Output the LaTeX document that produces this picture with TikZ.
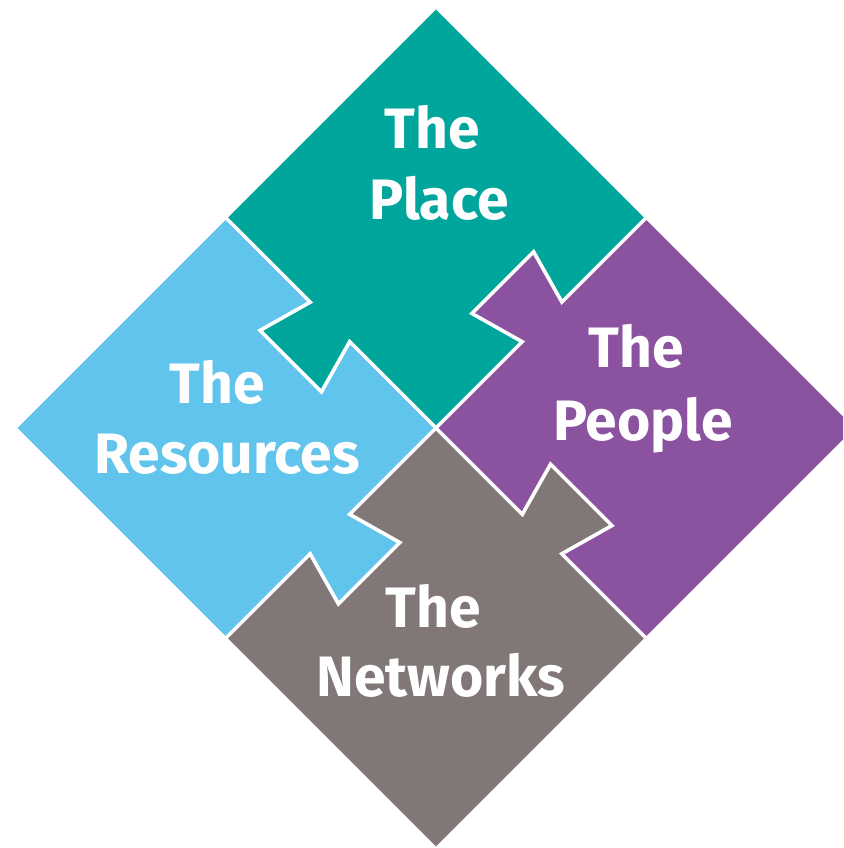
\documentclass[tikz,border=0pt]{standalone}
\usepackage{fontspec}
\setmainfont{Fira Sans}
\definecolor{placeC}{RGB}{0,165,155}
\definecolor{resC}{RGB}{97,196,236}
\definecolor{peopleC}{RGB}{139,82,160}
\definecolor{netC}{RGB}{128,119,118}
\tikzset{
  piece/.style={draw=white, line width=3.5pt, line join=miter},
  lbl/.style={text=white, font=\fontsize{57}{68}\selectfont\bfseries, anchor=base, inner sep=0pt}
}
\begin{document}
\begin{tikzpicture}[x=1pt,y=1pt]
\useasboundingbox (0,-848) rectangle (843,0);
\clip (0,-848) rectangle (843,0);
\def\S{297.7}
\begin{scope}[shift={(436,-428)}, rotate=45]
% The Place (a>0, b>0)
\fill[placeC] (0,0) -- (122,0) -- (106.5,55.5) -- (193.5,55.5) -- (178,0) -- (\S,0)
  -- (\S,\S) -- (0,\S) -- (0,178) -- (-55.5,193.5) -- (-55.5,106.5) -- (0,122) -- cycle;
\draw[piece] (0,0) -- (122,0) -- (106.5,55.5) -- (193.5,55.5) -- (178,0) -- (\S,0)
  -- (\S,\S) -- (0,\S) -- (0,178) -- (-55.5,193.5) -- (-55.5,106.5) -- (0,122) -- cycle;
% The Resources (a<0, b>0)
\fill[resC] (0,0) -- (0,122) -- (-55.5,106.5) -- (-55.5,193.5) -- (0,178) -- (0,\S)
  -- (-\S,\S) -- (-\S,0) -- (-178,0) -- (-193.5,-55.5) -- (-106.5,-55.5) -- (-122,0) -- cycle;
\draw[piece] (0,0) -- (0,122) -- (-55.5,106.5) -- (-55.5,193.5) -- (0,178) -- (0,\S)
  -- (-\S,\S) -- (-\S,0) -- (-178,0) -- (-193.5,-55.5) -- (-106.5,-55.5) -- (-122,0) -- cycle;
% The Networks (a<0, b<0)
\fill[netC] (0,0) -- (-122,0) -- (-106.5,-55.5) -- (-193.5,-55.5) -- (-178,0) -- (-\S,0)
  -- (-\S,-\S) -- (0,-\S) -- (0,-178) -- (55.5,-193.5) -- (55.5,-106.5) -- (0,-122) -- cycle;
\draw[piece] (0,0) -- (-122,0) -- (-106.5,-55.5) -- (-193.5,-55.5) -- (-178,0) -- (-\S,0)
  -- (-\S,-\S) -- (0,-\S) -- (0,-178) -- (55.5,-193.5) -- (55.5,-106.5) -- (0,-122) -- cycle;
% The People (a>0, b<0)
\fill[peopleC] (0,0) -- (0,-122) -- (55.5,-106.5) -- (55.5,-193.5) -- (0,-178) -- (0,-\S)
  -- (\S,-\S) -- (\S,0) -- (178,0) -- (193.5,55.5) -- (106.5,55.5) -- (122,0) -- cycle;
\draw[piece] (0,0) -- (0,-122) -- (55.5,-106.5) -- (55.5,-193.5) -- (0,-178) -- (0,-\S)
  -- (\S,-\S) -- (\S,0) -- (178,0) -- (193.5,55.5) -- (106.5,55.5) -- (122,0) -- cycle;
\end{scope}
% labels
\node[lbl] (placeA) at (432,-148) {The};
\node[lbl] (placeB) at (439,-219) {Place};
\node[lbl] (resA) at (217,-403) {The};
\node[lbl] (resB) at (227,-473) {Resources};
\node[lbl] (peopleA) at (636,-367) {The};
\node[lbl] (peopleB) at (643,-440) {People};
\node[lbl] (netA) at (433,-627) {The};
\node[lbl] (netB) at (441,-696) {Networks};
\end{tikzpicture}
\end{document}
